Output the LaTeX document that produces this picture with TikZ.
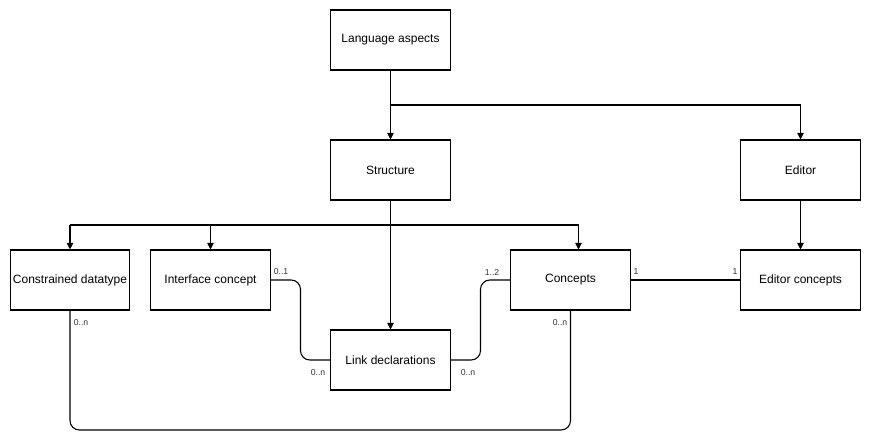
\documentclass[tikz,border=0pt]{standalone}
\usepackage{fontspec}
\setmainfont{Liberation Sans}
\usetikzlibrary{arrows.meta,calc}
\tikzstyle{block}=[draw, thick, fill=white, minimum width=89.5pt, minimum height=45pt, inner sep=0pt, font=\fontsize{9}{11}\selectfont]
\tikzstyle{arr}=[thick, -{Triangle[length=5pt,width=5pt]}]
\tikzstyle{link}=[thick, rounded corners=7pt]
\tikzstyle{mult}=[inner sep=0pt, font=\fontsize{6.5}{8}\selectfont, text=black!80]
\newcommand{\mlabel}[3]{
 \node[mult] (#1) at #2 {#3};
}

\begin{document}
\begin{tikzpicture}[x=0.75pt, y=-0.75pt]
 \useasboundingbox[fill=white] (0,0) rectangle (871,442);
%
 \node[block] (lang) at (390.5,40) {Language aspects};
 \node[block] (struct) at (390.5,170) {Structure};
 \node[block] (editor) at (800.5,170) {Editor};
 \node[block] (cdt) at (70,280) {Constrained datatype};
 \node[block] (iface) at (210.5,280) {Interface concept};
 \node[block] (concepts) at (570.5,280) {Concepts};
 \node[block] (edconc) at (800.5,280) {Editor concepts};
 \node[block] (decl) at (390.5,360) {Link declarations};
%
 \coordinate (split1) at (390.5,105);
 \coordinate (splitL) at (70,225);
 \coordinate (splitI) at (210.5,225);
 \coordinate (splitR) at (578.5,225);
 \draw[arr] (lang) -- (struct);
 \draw[arr] (split1) -| (editor);
 \draw[arr] (struct) -- (decl);
 \draw[thick] (splitL) -- (splitR);
 \draw[arr] (splitL) -- (cdt);
 \draw[arr] (splitI) -- (iface);
 \draw[arr] (splitR) -- (splitR |- concepts.north);
 \draw[arr] (editor) -- (edconc);
%
 \draw[thick] (concepts) -- (edconc);
 \draw[link] (iface.east) -| (300.5,360) -- (decl.west);
 \draw[link] (decl.east) -| (480.5,280) -- (concepts.west);
 \draw[link] (cdt.south) -- (70,430) -| (concepts.south);
%
 \mlabel{m1}{(281,272)}{0..1}
 \mlabel{m2}{(318,373)}{0..n}
 \mlabel{m3}{(468,373)}{0..n}
 \mlabel{m4}{(492,272)}{1..2}
 \mlabel{m5}{(636,272)}{1}
 \mlabel{m6}{(735,272)}{1}
 \mlabel{m7}{(81,323)}{0..n}
 \mlabel{m8}{(560,323)}{0..n}
\end{tikzpicture}
\end{document}
